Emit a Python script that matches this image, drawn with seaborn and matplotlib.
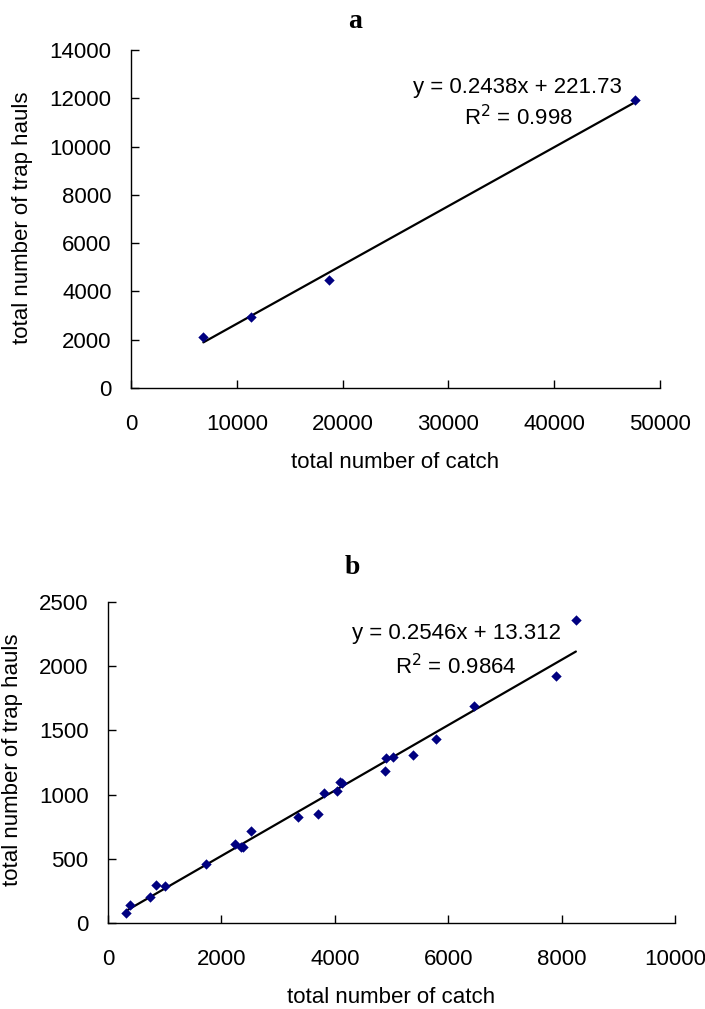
import numpy as np
import pandas as pd
import matplotlib
matplotlib.use("Agg")
import matplotlib.pyplot as plt
import seaborn as sns

# Panel a: catch vs trap hauls
catch_a = [6840, 11320, 18680, 47650]
hauls_a = [2100, 2940, 4480, 11930]
slope_a, icept_a = 0.2438, 221.73

# Panel b: catch vs trap hauls
catch_b = [317, 388, 741, 847, 1005, 1728, 2240, 2340, 2380, 2517, 3345, 3698,
           3810, 4044, 4092, 4130, 4885, 4910, 5030, 5371, 5786, 6448, 7901, 8252]
hauls_b = [80, 140, 200, 296, 288, 457, 615, 594, 590, 716, 828, 846,
           1015, 1030, 1100, 1090, 1184, 1283, 1295, 1311, 1430, 1687, 1924, 2357]
slope_b, icept_b = 0.2546, 13.312

xticks_a = [0, 10000, 20000, 30000, 40000, 50000]
yticks_a = [0, 2000, 4000, 6000, 8000, 10000, 12000, 14000]
xticks_b = [0, 2000, 4000, 6000, 8000, 10000]
yticks_b = [0, 500, 1000, 1500, 2000, 2500]

sns.set_style("ticks")
plt.rcParams["font.family"] = ["Liberation Sans", "DejaVu Sans"]
plt.rcParams.update({"text.color": "black", "axes.labelcolor": "black",
                     "xtick.color": "black", "ytick.color": "black",
                     "axes.edgecolor": "black"})

fig = plt.figure(figsize=(7.05, 10.09), dpi=100)
W, H = 705, 1009


def add_ax(l, r, t, b):
    return fig.add_axes([l / W, 1 - b / H, (r - l) / W, (b - t) / H])


def panel(ax, xs, ys, slope, icept, xticks, yticks, eq_pos, r2_pos, r2txt, xlab_y, ylab):
    df = pd.DataFrame({"catch": xs, "hauls": ys})
    fit = pd.DataFrame({"catch": [min(xs), max(xs)]})
    fit["hauls"] = slope * fit["catch"] + icept
    sns.lineplot(data=fit, x="catch", y="hauls", color="black", linewidth=1.6, ax=ax)
    sns.scatterplot(data=df, x="catch", y="hauls", marker="D", s=28, color="#000080",
                    edgecolor="#000080", linewidth=0, ax=ax, zorder=3)
    ax.set_xlim(xticks[0], xticks[-1])
    ax.set_ylim(yticks[0], yticks[-1])
    ax.set_xticks(xticks)
    ax.set_yticks(yticks)
    ax.tick_params(axis="x", direction="in", length=6, width=1, pad=19, labelsize=16)
    ax.tick_params(axis="y", direction="in", length=6, width=1, pad=14, labelsize=16)
    sns.despine(ax=ax)
    for s in ["left", "bottom"]:
        ax.spines[s].set_linewidth(1)
    ax.set_xlabel("total number of catch", fontsize=16)
    ax.set_ylabel("total number of trap hauls", fontsize=16)
    ax.xaxis.set_label_coords(0.5, xlab_y)
    ax.yaxis.set_label_coords(ylab[0], ylab[1])
    sign = "+" if icept >= 0 else "-"
    ax.text(eq_pos[0], eq_pos[1], f"y = {slope}x {sign} {abs(icept)}", transform=ax.transAxes,
            ha="center", va="center", fontsize=16)
    ax.text(r2_pos[0], r2_pos[1], r2txt, transform=ax.transAxes,
            ha="center", va="center", fontsize=16)


ax_a = add_ax(131, 660, 50, 388)
panel(ax_a, catch_a, hauls_a, slope_a, icept_a, xticks_a, yticks_a,
      ((517 - 131) / 529, (388 - 87) / 338), ((518 - 131) / 529, (388 - 118) / 338),
      "R$^2$ = 0.998", -0.19, (-0.185, 0.503))
fig.text(355 / W, 1 - 21 / H, "a", ha="center", va="center", fontsize=20,
         fontweight="bold", family="Liberation Serif")

ax_b = add_ax(108, 675, 602, 923)
panel(ax_b, catch_b, hauls_b, slope_b, icept_b, xticks_b, yticks_b,
      ((456 - 108) / 567, (923 - 633) / 321), ((456 - 108) / 567, (923 - 667) / 321),
      "R$^2$ = 0.9864", -0.2, (-0.15, 0.51))
fig.text(352 / W, 1 - 568 / H, "b", ha="center", va="center", fontsize=20,
         fontweight="bold", family="Liberation Serif")

fig.savefig("out.png", dpi=100, facecolor="white")
